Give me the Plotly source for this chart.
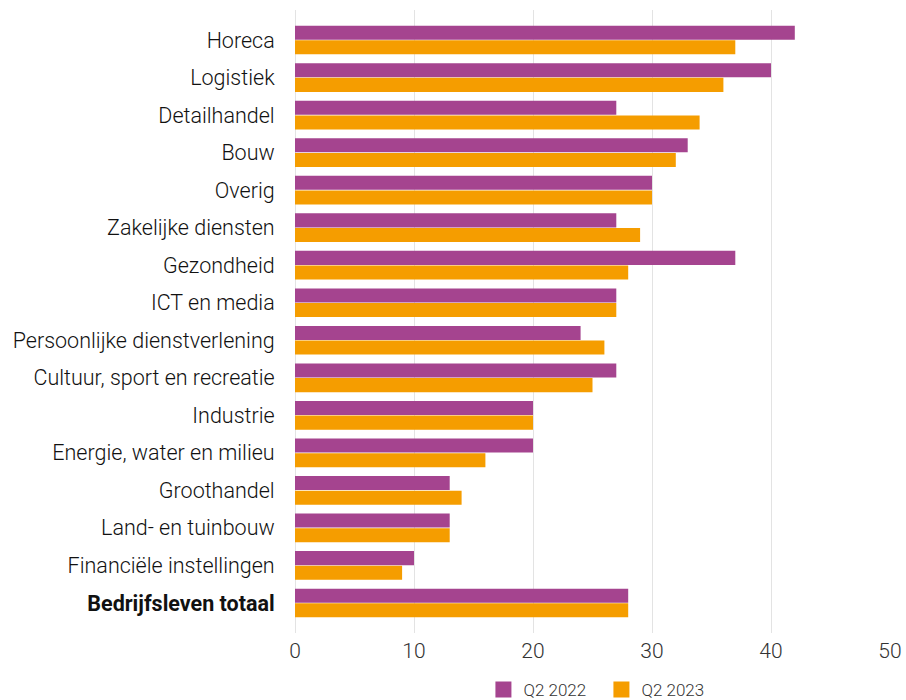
import plotly.graph_objects as go

categories = [
    "Horeca", "Logistiek", "Detailhandel", "Bouw", "Overig",
    "Zakelijke diensten", "Gezondheid", "ICT en media",
    "Persoonlijke dienstverlening", "Cultuur, sport en recreatie",
    "Industrie", "Energie, water en milieu", "Groothandel",
    "Land- en tuinbouw", "Financiële instellingen", "Bedrijfsleven totaal",
]
q2_2022 = [42, 40, 27, 33, 30, 27, 37, 27, 24, 27, 20, 20, 13, 13, 10, 28]
q2_2023 = [37, 36, 34, 32, 30, 29, 28, 27, 26, 25, 20, 16, 14, 13, 9, 28]
tick_vals = [0, 10, 20, 30, 40, 50]
series_names = ["Q2 2022", "Q2 2023"]
series_colors = ["#a5448f", "#f59d00"]

tick_text = [f"<b>{c}</b>" if c == "Bedrijfsleven totaal" else c for c in categories]

FONT = "Roboto"
fig = go.Figure()
for name, vals, col in zip(series_names, [q2_2022, q2_2023], series_colors):
    fig.add_trace(go.Bar(y=categories, x=vals, orientation="h", name=name,
                         marker=dict(color=col, line=dict(width=0)), showlegend=False))
# legend entries with larger square swatches
for name, col in zip(series_names, series_colors):
    fig.add_trace(go.Scatter(x=[None], y=[None], mode="markers", name=name,
                             marker=dict(symbol="square", size=18, color=col),
                             showlegend=True))

fig.update_layout(
    width=906, height=700,
    margin=dict(l=295, r=16, t=10, b=67, autoexpand=False),
    paper_bgcolor="white", plot_bgcolor="white",
    barmode="group", bargap=0.22, bargroupgap=0.04,
    font=dict(family=FONT, color="#222222", weight=300),
    showlegend=True,
    legend=dict(orientation="h", x=0.515, xanchor="center", y=-0.0915, yanchor="middle",
                font=dict(size=17, family=FONT, color="#333333", weight=300),
                itemsizing="trace", itemwidth=30, tracegroupgap=0,
                entrywidth=73, entrywidthmode="pixels"),
    xaxis=dict(range=[0, 50], tickvals=tick_vals, showgrid=True, gridcolor="#e3e3e3",
               gridwidth=1, zeroline=True, zerolinecolor="#e3e3e3", zerolinewidth=1,
               tickfont=dict(size=21, family=FONT, color="#333333", weight=300),
               ticks="", ticklabelstandoff=3,
               showline=False, automargin=False),
    yaxis=dict(categoryorder="array", categoryarray=categories,
               tickvals=categories, ticktext=tick_text,
               range=[15.8, -0.8], showgrid=False, zeroline=False,
               tickfont=dict(size=21.5, family=FONT, color="#111111", weight=300),
               ticks="outside", ticklen=15, tickcolor="rgba(0,0,0,0)", automargin=False),
)
fig.write_html("out.html", config={"displayModeBar": False},
               post_script="document.body.style.margin='0';document.body.style.overflow='hidden';")
